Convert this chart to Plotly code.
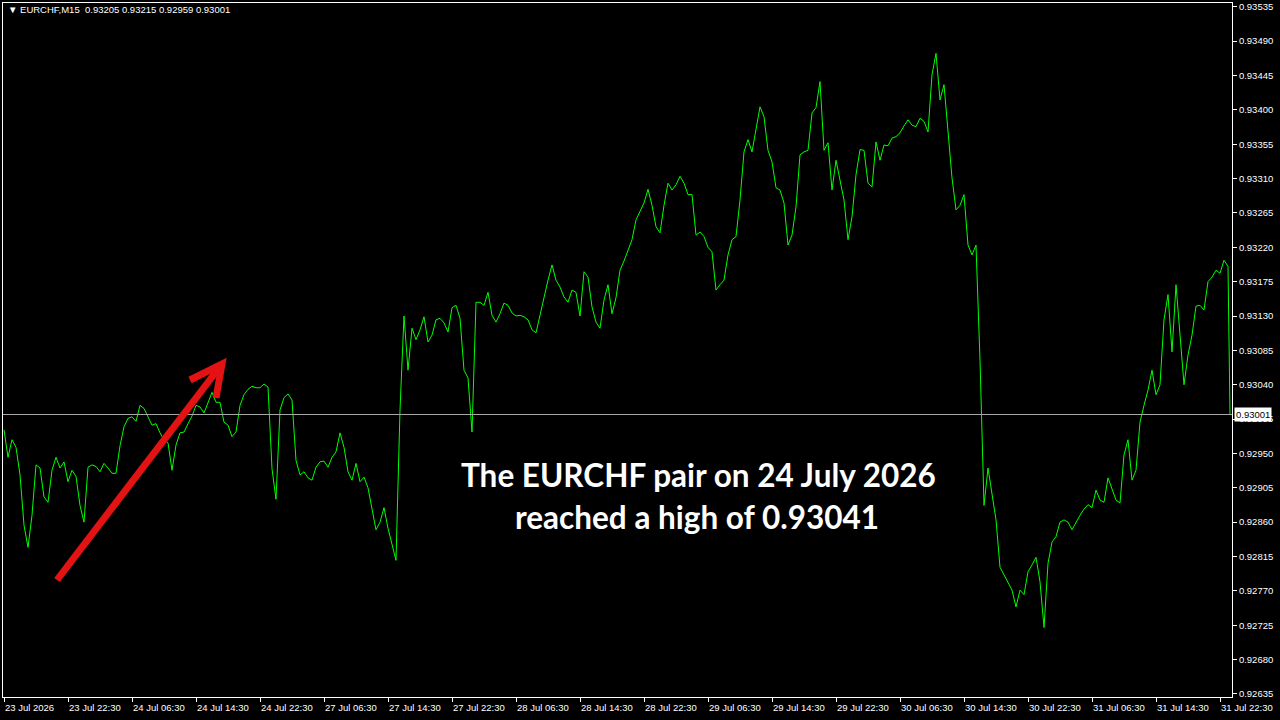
import pandas as pd
import plotly.graph_objects as go

# ---------------- data ----------------
symbol_header = "▼ EURCHF,M15  0.93205 0.93215 0.92959 0.93001"
last_close = 0.93001

# EURCHF M15 closes, read every second bar (30 min) from 23 Jul 14:30, plus the final bar
closes = [
    0.92981, 0.92945, 0.92968, 0.92958, 0.92922, 0.92856, 0.92827, 0.92869, 0.92935, 0.92931,
    0.92893, 0.92886, 0.92928, 0.92945, 0.92931, 0.92939, 0.92913, 0.92928, 0.92920, 0.92882,
    0.92860, 0.92932, 0.92935, 0.92933, 0.92926, 0.92937, 0.92931, 0.92924, 0.92924, 0.92960,
    0.92985, 0.92996, 0.92998, 0.92992, 0.93013, 0.93009, 0.92998, 0.92987, 0.92989, 0.92977,
    0.92968, 0.92964, 0.92928, 0.92961, 0.92977, 0.92978, 0.92989, 0.92999, 0.93013, 0.93011,
    0.93003, 0.93016, 0.93030, 0.93017, 0.93017, 0.92991, 0.92987, 0.92972, 0.92978, 0.93013,
    0.93027, 0.93034, 0.93038, 0.93036, 0.93036, 0.93041, 0.93037, 0.92930, 0.92890, 0.93007,
    0.93023, 0.93028, 0.93020, 0.92941, 0.92922, 0.92926, 0.92918, 0.92915, 0.92932, 0.92939,
    0.92940, 0.92932, 0.92945, 0.92952, 0.92977, 0.92958, 0.92926, 0.92915, 0.92937, 0.92913,
    0.92919, 0.92905, 0.92876, 0.92850, 0.92860, 0.92879, 0.92852, 0.92830, 0.92810, 0.93007,
    0.93130, 0.93059, 0.93114, 0.93099, 0.93112, 0.93129, 0.93096, 0.93105, 0.93125, 0.93127,
    0.93121, 0.93109, 0.93141, 0.93144, 0.93127, 0.93059, 0.93049, 0.92978, 0.93148, 0.93148,
    0.93144, 0.93161, 0.93131, 0.93122, 0.93133, 0.93147, 0.93144, 0.93134, 0.93130, 0.93131,
    0.93129, 0.93125, 0.93112, 0.93108, 0.93131, 0.93156, 0.93177, 0.93197, 0.93177, 0.93168,
    0.93155, 0.93148, 0.93164, 0.93161, 0.93130, 0.93188, 0.93181, 0.93142, 0.93122, 0.93114,
    0.93151, 0.93171, 0.93133, 0.93154, 0.93190, 0.93202, 0.93216, 0.93230, 0.93256, 0.93266,
    0.93278, 0.93296, 0.93275, 0.93247, 0.93239, 0.93275, 0.93304, 0.93295, 0.93302, 0.93313,
    0.93304, 0.93289, 0.93289, 0.93236, 0.93240, 0.93234, 0.93220, 0.93214, 0.93164, 0.93171,
    0.93177, 0.93210, 0.93230, 0.93234, 0.93282, 0.93345, 0.93361, 0.93345, 0.93376, 0.93404,
    0.93391, 0.93347, 0.93332, 0.93298, 0.93295, 0.93278, 0.93223, 0.93236, 0.93273, 0.93341,
    0.93345, 0.93347, 0.93396, 0.93403, 0.93437, 0.93347, 0.93357, 0.93295, 0.93334, 0.93308,
    0.93282, 0.93230, 0.93260, 0.93315, 0.93348, 0.93347, 0.93304, 0.93299, 0.93358, 0.93334,
    0.93354, 0.93353, 0.93363, 0.93365, 0.93370, 0.93379, 0.93387, 0.93380, 0.93378, 0.93389,
    0.93385, 0.93371, 0.93446, 0.93474, 0.93413, 0.93433, 0.93367, 0.93311, 0.93269, 0.93275,
    0.93289, 0.93223, 0.93210, 0.93223, 0.93072,
    0.92882, 0.92931, 0.92898, 0.92863, 0.92801, 0.92791, 0.92782, 0.92771, 0.92749, 0.92771,
    0.92765, 0.92795, 0.92804, 0.92814, 0.92782, 0.92722, 0.92806, 0.92834, 0.92841, 0.92860,
    0.92863, 0.92860, 0.92850, 0.92860, 0.92869, 0.92877, 0.92883, 0.92879, 0.92902, 0.92889,
    0.92886, 0.92918, 0.92902, 0.92889, 0.92885, 0.92948, 0.92968, 0.92915, 0.92928, 0.92991,
    0.93013, 0.93033, 0.93059, 0.93027, 0.93040, 0.93125, 0.93158, 0.93083, 0.93171, 0.93099,
    0.93040, 0.93079, 0.93105, 0.93143, 0.93144, 0.93138, 0.93175, 0.93181, 0.93190, 0.93186,
    0.93203, 0.93195,
    0.93001,
]

price_ticks_start = 0.92635
price_tick_step = 0.00045
price_tick_count = 21
time_tick_every = 32          # bars between time labels (8 hours of M15)

annotation_line1 = "The EURCHF pair on 24 July 2026"
annotation_line2 = "reached a high of 0.93041"

# ---------------- build bar time axis (M15, weekends skipped) ----------------
bars = []
t = pd.Timestamp("2026-07-23 14:30")
while len(bars) < 614:
    if t.weekday() < 5:
        bars.append(t)
    t += pd.Timedelta(minutes=15)

sample_idx = list(range(0, len(bars) - 1, 2)) + [len(bars) - 1]
assert len(sample_idx) == len(closes), (len(sample_idx), len(closes))
hover_text = [bars[i].strftime("%d %b %H:%M") for i in sample_idx]

tick_idx = list(range(0, len(bars), time_tick_every))
tick_text = [bars[0].strftime("%d %b %Y")] + [bars[i].strftime("%d %b %H:%M") for i in tick_idx[1:]]

price_vals = [round(price_ticks_start + price_tick_step * k, 5) for k in range(price_tick_count)]
price_text = [f"{v:.5f}" for v in price_vals]

# ---------------- figure ----------------
W, H = 1280, 720
ML, MR, MT, MB = 3, 48, 3, 23
PW, PH = W - ML - MR, H - MT - MB

def px(x):   # pixel -> paper x
    return (x - ML) / PW

def py(y):   # pixel -> paper y
    return (H - MB - y) / PH

fig = go.Figure()
fig.add_trace(go.Scatter(
    x=sample_idx, y=closes, mode="lines",
    line=dict(color="#00ff00", width=1),
    text=hover_text, hovertemplate="%{text}<br>%{y:.5f}<extra></extra>",
    showlegend=False,
))

axis_font = dict(family="Liberation Sans, Arial, sans-serif", size=9.5, color="white")

fig.update_layout(
    width=W, height=H,
    margin=dict(l=ML, r=MR, t=MT, b=MB, pad=0, autoexpand=False),
    paper_bgcolor="black", plot_bgcolor="black",
    xaxis=dict(
        range=[-0.5, 614], showgrid=False, zeroline=False, automargin=False,
        showline=True, linecolor="white", linewidth=1, mirror=True,
        ticks="outside", ticklen=4, tickcolor="white",
        tickvals=tick_idx, ticktext=tick_text,
        ticklabelposition="outside right", ticklabelstandoff=2,
        tickfont=axis_font,
    ),
    yaxis=dict(
        range=[0.92631, 0.93540], side="right", showgrid=False, zeroline=False, automargin=False,
        showline=True, linecolor="white", linewidth=1, mirror=True,
        ticks="outside", ticklen=4, tickcolor="white",
        tickvals=price_vals, ticktext=price_text,
        tickfont=axis_font,
    ),
    font=dict(family="Liberation Sans, Arial, sans-serif", color="white"),
)

# bid line
fig.add_shape(type="line", xref="paper", yref="y", x0=0, x1=1, y0=last_close, y1=last_close,
              line=dict(color="#a8a8a8", width=1))

# price box on the scale
fig.add_annotation(xref="paper", yref="y", x=1, y=last_close, xanchor="left", yanchor="middle",
                   xshift=2, text=f"{last_close:.5f}", showarrow=False,
                   bgcolor="white", borderpad=1,
                   font=dict(family="Liberation Sans, Arial, sans-serif", size=9.5, color="black"))

# header
fig.add_annotation(xref="paper", yref="paper", x=px(6), y=py(9), xanchor="left", yanchor="middle",
                   text=symbol_header, showarrow=False,
                   font=dict(family="Liberation Sans, Arial, sans-serif", size=9.5, color="white"))

# red arrow
arrow_col = "#e41313"
tail, tip = (57, 580), (222, 364)
wing1, wing2 = (190, 380), (216, 398)
fig.add_shape(type="line", xref="paper", yref="paper",
              x0=px(tail[0]), y0=py(tail[1]), x1=px(tip[0]), y1=py(tip[1]),
              line=dict(color=arrow_col, width=7))
fig.add_shape(type="path", xref="paper", yref="paper",
              path=f"M {px(wing1[0])},{py(wing1[1])} L {px(tip[0])},{py(tip[1])} L {px(wing2[0])},{py(wing2[1])}",
              line=dict(color=arrow_col, width=7))

# caption
cap_font = dict(family="Lato, Open Sans, sans-serif", size=31.5, color="white")
fig.add_annotation(xref="paper", yref="paper", x=px(698), y=py(475), xanchor="center", yanchor="middle",
                   text=f"<b>{annotation_line1}</b>", showarrow=False, font=cap_font)
fig.add_annotation(xref="paper", yref="paper", x=px(697), y=py(517), xanchor="center", yanchor="middle",
                   text=f"<b>{annotation_line2}</b>", showarrow=False, font=cap_font)

fig.write_html("out.html",
               config={"displayModeBar": False},
               post_script="document.body.style.margin='0px';document.body.style.overflow='hidden';")
